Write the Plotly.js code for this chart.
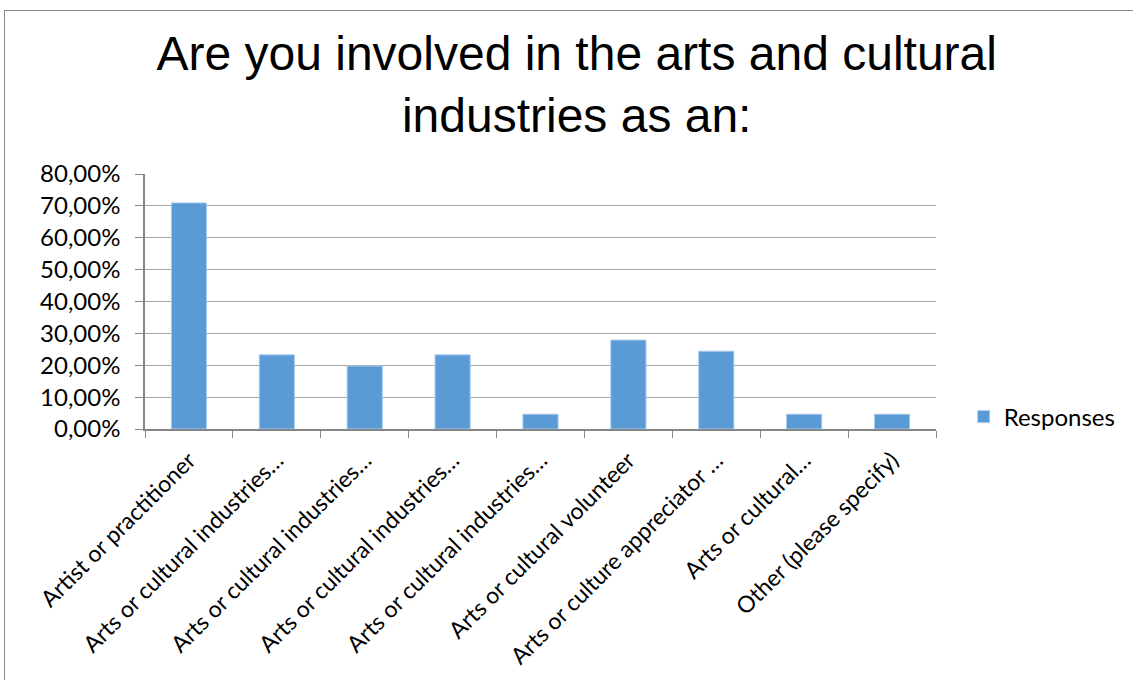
<!DOCTYPE html>
<html>
<head>
<meta charset="utf-8">
<script src="https://cdn.plot.ly/plotly-3.0.1.min.js"></script>
<style>
  html, body { margin: 0; padding: 0; background: #fff; }
  #wrap { position: relative; width: 1133px; height: 680px; }
  #chart { width: 1133px; height: 680px; }
  #frame { position: absolute; left: 4px; top: 10px; right: -2px; bottom: -2px;
           border-left: 1px solid #8c8c8c; border-top: 1px solid #8c8c8c; pointer-events: none; }
</style>
</head>
<body>
<div id="wrap">
  <div id="chart"></div>
  <div id="frame"></div>
</div>
<script>
const categoryIds = ["c1","c2","c3","c4","c5","c6","c7","c8","c9"];
const tickLabels = [
  "Artist or practitioner",
  "Arts or cultural industries…",
  "Arts or cultural industries…",
  "Arts or cultural industries…",
  "Arts or cultural industries…",
  "Arts or cultural volunteer",
  "Arts or culture appreciator …",
  "Arts or cultural…",
  "Other (please specify)"
];
const responses = [0.7093, 0.2326, 0.1977, 0.2326, 0.0465, 0.2791, 0.2442, 0.0465, 0.0465];
const yTicks = [0, 0.1, 0.2, 0.3, 0.4, 0.5, 0.6, 0.7, 0.8];

const FONT = 'Lato, "Open Sans", sans-serif';

const trace = {
  type: 'bar',
  name: 'Responses',
  x: categoryIds,
  y: responses,
  marker: { color: '#5B9BD5', line: { color: '#A9CBEC', width: 1 } },
  hoverinfo: 'x+y'
};

const layout = {
  width: 1133, height: 680,
  paper_bgcolor: '#ffffff', plot_bgcolor: '#ffffff',
  separators: ',.',
  margin: { l: 145, r: 195, t: 174, b: 251 },
  bargap: 0.6,
  title: {
    text: 'Are you involved in the arts and cultural<br>industries as an:',
    font: { family: '"Liberation Sans", Arial, sans-serif', size: 48, color: '#000' },
    x: 0.509, xanchor: 'center', xref: 'container',
    y: 0.8971, yanchor: 'top', yref: 'container'
  },
  font: { family: FONT, size: 24, color: '#000' },
  xaxis: {
    type: 'category',
    tickmode: 'array', tickvals: categoryIds, ticktext: tickLabels,
    tickangle: -45,
    tickson: 'boundaries',
    ticks: 'outside', ticklen: 7, tickcolor: '#868686', tickwidth: 1,
    ticklabelstandoff: 7,
    showline: true, linecolor: '#868686', linewidth: 1.5,
    showgrid: false,
    tickfont: { family: FONT, size: 23, color: '#000' }
  },
  yaxis: {
    range: [0, 0.8],
    tickmode: 'array', tickvals: yTicks,
    tickformat: '.2%',
    ticks: 'outside', ticklen: 8, tickcolor: '#868686', tickwidth: 1,
    ticklabelstandoff: 10,
    showline: true, linecolor: '#868686', linewidth: 1.5,
    showgrid: true, gridcolor: '#A6A6A6', gridwidth: 1.3,
    zeroline: false,
    tickfont: { family: FONT, size: 24, color: '#000' }
  },
  showlegend: true,
  legend: {
    x: 1.035, xanchor: 'left', y: 0.047, yanchor: 'middle',
    font: { family: FONT, size: 24, color: '#000' },
    bgcolor: 'rgba(0,0,0,0)'
  }
};

Plotly.newPlot('chart', [trace], layout, { displayModeBar: false, responsive: false });
</script>
</body>
</html>
